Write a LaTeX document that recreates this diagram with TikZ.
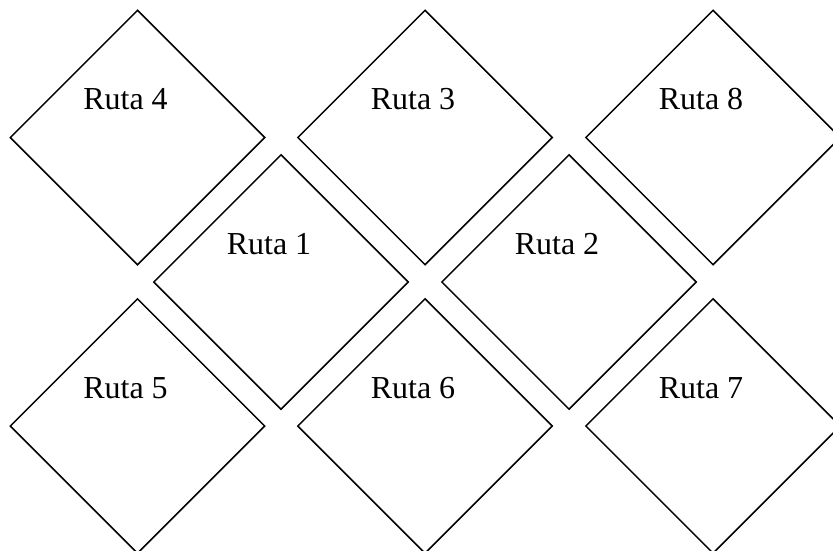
\documentclass[tikz,border=0pt]{standalone}
\usepackage{fontspec}
\setmainfont{Liberation Serif}
\usetikzlibrary{shapes.geometric,calc}
\begin{document}
\begin{tikzpicture}[x=1pt,y=-1pt,
  rombo/.style={diamond,draw=black,line width=1.5pt,inner sep=0pt,
    minimum width=255pt,minimum height=255pt,aspect=1},
  lbl/.style={anchor=base,inner sep=0pt,font=\fontsize{32}{37}\selectfont}]
\useasboundingbox (0,0) rectangle (833,551);
\clip (0,0) rectangle (833,551);
\foreach \n/\x/\y/\t in {r4/137.5/137.5/Ruta 4, r3/425/137.5/Ruta 3, r8/713/137.5/Ruta 8,
  r1/281/282/Ruta 1, r2/569/282/Ruta 2,
  r5/137.5/426/Ruta 5, r6/425/426/Ruta 6, r7/713/426/Ruta 7}{
  \node[rombo] (\n) at (\x,\y) {};
  \node[lbl] (\n t) at ($(\n.north)+(-12,100.5)$) {\t};
}
\end{tikzpicture}
\end{document}
